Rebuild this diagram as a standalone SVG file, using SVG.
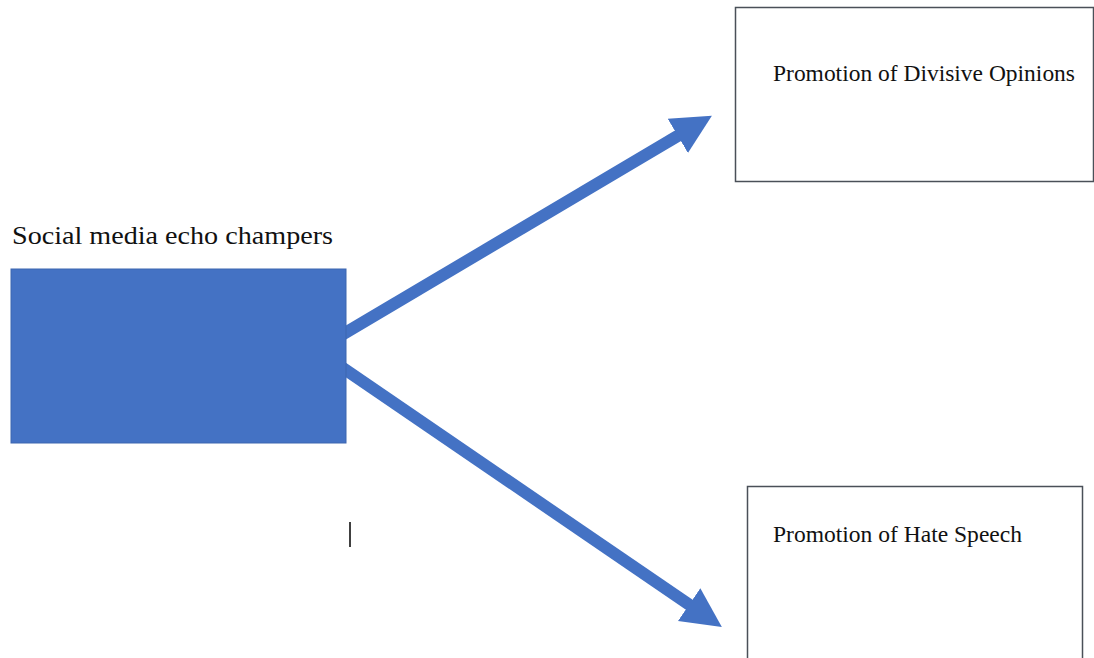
<svg xmlns="http://www.w3.org/2000/svg" width="1094" height="658" viewBox="0 0 1094 658">
<style>
.lbl{font-family:"Liberation Serif","Times New Roman",serif;fill:#111;}
.box{fill:#fff;stroke:#4a5058;stroke-width:1.5;}
.arrow{stroke:#4472C4;stroke-width:12;fill:none;}
</style>
<defs>
<marker id="head" viewBox="0 0 10 10" refX="2.4" refY="5" markerWidth="3.3" markerHeight="3.8" orient="auto" markerUnits="strokeWidth">
<path d="M0,0 L10,5 L0,10 z" fill="#4472C4"/>
</marker>
</defs>
<rect width="1094" height="658" fill="#fff"/>
<g id="connectors">
<line class="arrow" x1="340" y1="336" x2="686" y2="131" marker-end="url(#head)"/>
<line class="arrow" x1="340" y1="366" x2="697" y2="610" marker-end="url(#head)"/>
</g>
<g id="source">
<text class="lbl" x="12" y="244" font-size="25" textLength="321" lengthAdjust="spacingAndGlyphs">Social media echo champers</text>
<rect x="11" y="269" width="335" height="174" fill="#4472C4" stroke="#3d66b0" stroke-width="1"/>
</g>
<g id="divisive">
<rect class="box" x="735.5" y="7.5" width="358" height="174"/>
<text class="lbl" x="773" y="81" font-size="23" textLength="302" lengthAdjust="spacingAndGlyphs">Promotion of Divisive Opinions</text>
</g>
<g id="hate">
<rect class="box" x="747.5" y="486.5" width="335" height="190"/>
<text class="lbl" x="773" y="542" font-size="23" textLength="249" lengthAdjust="spacingAndGlyphs">Promotion of Hate Speech</text>
</g>
<line x1="350" y1="522" x2="350" y2="547" stroke="#000" stroke-width="1.5"/>
</svg>
